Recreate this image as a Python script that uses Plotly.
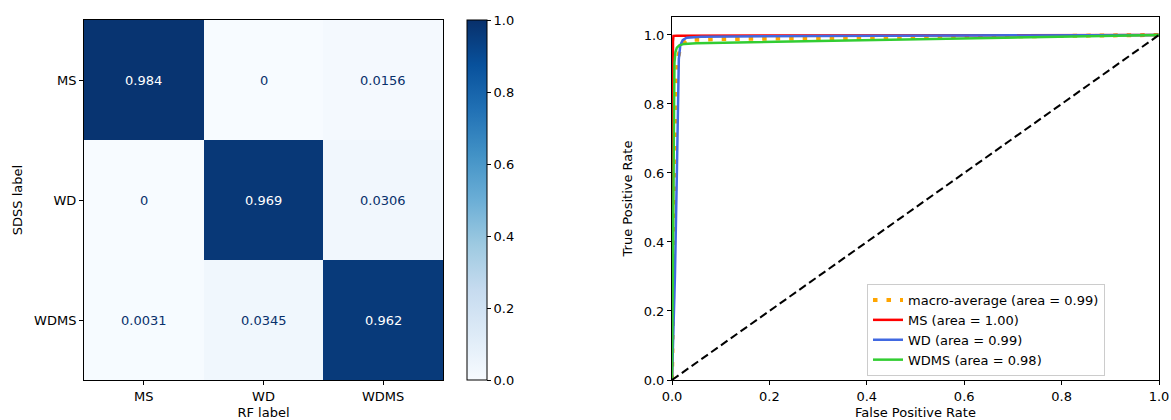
import plotly.graph_objects as go

# ---------------- data ----------------
class_labels = ["MS", "WD", "WDMS"]
cm_ms = [0.984, 0.0, 0.0156]
cm_wd = [0.0, 0.969, 0.0306]
cm_wdms = [0.0031, 0.0345, 0.962]

macro_fpr = [0, 0.005, 0.008, 0.012, 0.018, 0.03, 0.1, 0.5, 0.8, 1.0]
macro_tpr = [0, 0.5, 0.85, 0.93, 0.97, 0.985, 0.988, 0.993, 0.997, 1.0]

ms_fpr = [0, 0.002, 0.002, 0.003, 0.01, 1.0]
ms_tpr = [0, 0.5, 0.98, 0.997, 0.998, 1.0]

wd_fpr = [0, 0.006, 0.01, 0.012, 0.014, 0.017, 0.022, 0.03, 0.06, 0.3, 1.0]
wd_tpr = [0, 0.3, 0.6, 0.85, 0.93, 0.97, 0.985, 0.992, 0.995, 0.997, 1.0]

wdms_fpr = [0, 0.003, 0.004, 0.005, 0.007, 0.01, 0.015, 0.025, 0.05, 0.2, 0.6, 1.0]
wdms_tpr = [0, 0.5, 0.85, 0.92, 0.95, 0.963, 0.97, 0.974, 0.976, 0.98, 0.99, 1.0]

legend_names = ["macro-average (area = 0.99)", "MS (area = 1.00)",
                "WD (area = 0.99)", "WDMS (area = 0.98)"]

# ---------------- figure ----------------
W, H = 1171, 420
FONT = "DejaVu Sans"
blues = [[0.0, "#f7fbff"], [0.125, "#deebf7"], [0.25, "#c6dbef"], [0.375, "#9ecae1"],
         [0.5, "#6baed6"], [0.625, "#4292c6"], [0.75, "#2171b5"], [0.875, "#08519c"],
         [1.0, "#08306b"]]

z = [cm_ms, cm_wd, cm_wdms]

fig = go.Figure()
fig.add_trace(go.Heatmap(
    z=z, x=class_labels, y=class_labels, xaxis="x", yaxis="y",
    colorscale=blues, zmin=0, zmax=1, showscale=True, hoverinfo="skip",
    colorbar=dict(x=467 / W, xanchor="left", xref="paper", y=(H - 380) / H, yanchor="bottom",
                  len=360 / H, lenmode="fraction", thickness=20, thicknessmode="pixels",
                  outlinewidth=1, outlinecolor="black", ticks="outside", ticklen=4,
                  tickcolor="black", tickvals=[0, 0.2, 0.4, 0.6, 0.8, 1.0],
                  tickformat=".1f", tickfont=dict(family=FONT, size=13, color="black"),
                  xpad=0, ypad=0),
))

annotations = []
for i, row in enumerate(z):
    for j, v in enumerate(row):
        annotations.append(dict(
            x=class_labels[j], y=class_labels[i], xref="x", yref="y",
            text=f"{v:.3g}", showarrow=False,
            font=dict(family=FONT, size=13, color="white" if v > 0.5 else "#08306b")))

# ROC curves
fig.add_trace(go.Scatter(x=macro_fpr, y=macro_tpr, mode="lines", name=legend_names[0],
                         xaxis="x2", yaxis="y2",
                         line=dict(color="orange", width=4, dash="4.5px,9px")))
fig.add_trace(go.Scatter(x=ms_fpr, y=ms_tpr, mode="lines", name=legend_names[1],
                         xaxis="x2", yaxis="y2", line=dict(color="red", width=2.5)))
fig.add_trace(go.Scatter(x=wd_fpr, y=wd_tpr, mode="lines", name=legend_names[2],
                         xaxis="x2", yaxis="y2", line=dict(color="royalblue", width=2.5)))
fig.add_trace(go.Scatter(x=wdms_fpr, y=wdms_tpr, mode="lines", name=legend_names[3],
                         xaxis="x2", yaxis="y2", line=dict(color="limegreen", width=2.5)))
fig.add_trace(go.Scatter(x=[0, 1], y=[0, 1], mode="lines", showlegend=False,
                         xaxis="x2", yaxis="y2", line=dict(color="black", width=2, dash="8px,4px")))

axis_common = dict(showline=True, linecolor="black", linewidth=1, mirror=True,
                   ticks="outside", ticklen=4, tickcolor="black", showgrid=False,
                   zeroline=False, automargin=False,
                   tickfont=dict(family=FONT, size=13, color="black"),
                   title_font=dict(family=FONT, size=13, color="black"))

fig.update_layout(
    width=W, height=H, margin=dict(l=0, r=0, t=0, b=0),
    paper_bgcolor="white", plot_bgcolor="white",
    font=dict(family=FONT, size=13, color="black"),
    xaxis=dict(domain=[84 / W, 443 / W], range=[-0.5, 2.5], anchor="y",
               title=dict(text="RF label", standoff=7), **axis_common),
    yaxis=dict(domain=[(H - 380) / H, (H - 20) / H], range=[2.5, -0.5], anchor="x",
               title=dict(text="SDSS label", standoff=8), **axis_common),
    xaxis2=dict(domain=[672 / W, 1159 / W], range=[0, 1], anchor="y2",
                tickvals=[0, 0.2, 0.4, 0.6, 0.8, 1.0], tickformat=".1f",
                title=dict(text="False Positive Rate", standoff=7), **axis_common),
    yaxis2=dict(domain=[(H - 380) / H, (H - 17) / H], range=[0, 1.052], anchor="x2",
                tickvals=[0, 0.2, 0.4, 0.6, 0.8, 1.0], tickformat=".1f",
                title=dict(text="True Positive Rate", standoff=8), **axis_common),
    legend=dict(x=1105 / W, xanchor="right", y=(H - 376) / H, yanchor="bottom",
                bgcolor="rgba(255,255,255,0.8)", bordercolor="#cccccc", borderwidth=1,
                font=dict(family=FONT, size=13, color="black"), tracegroupgap=0),
    annotations=annotations,
    showlegend=True,
)

fig.write_html("out.html")
